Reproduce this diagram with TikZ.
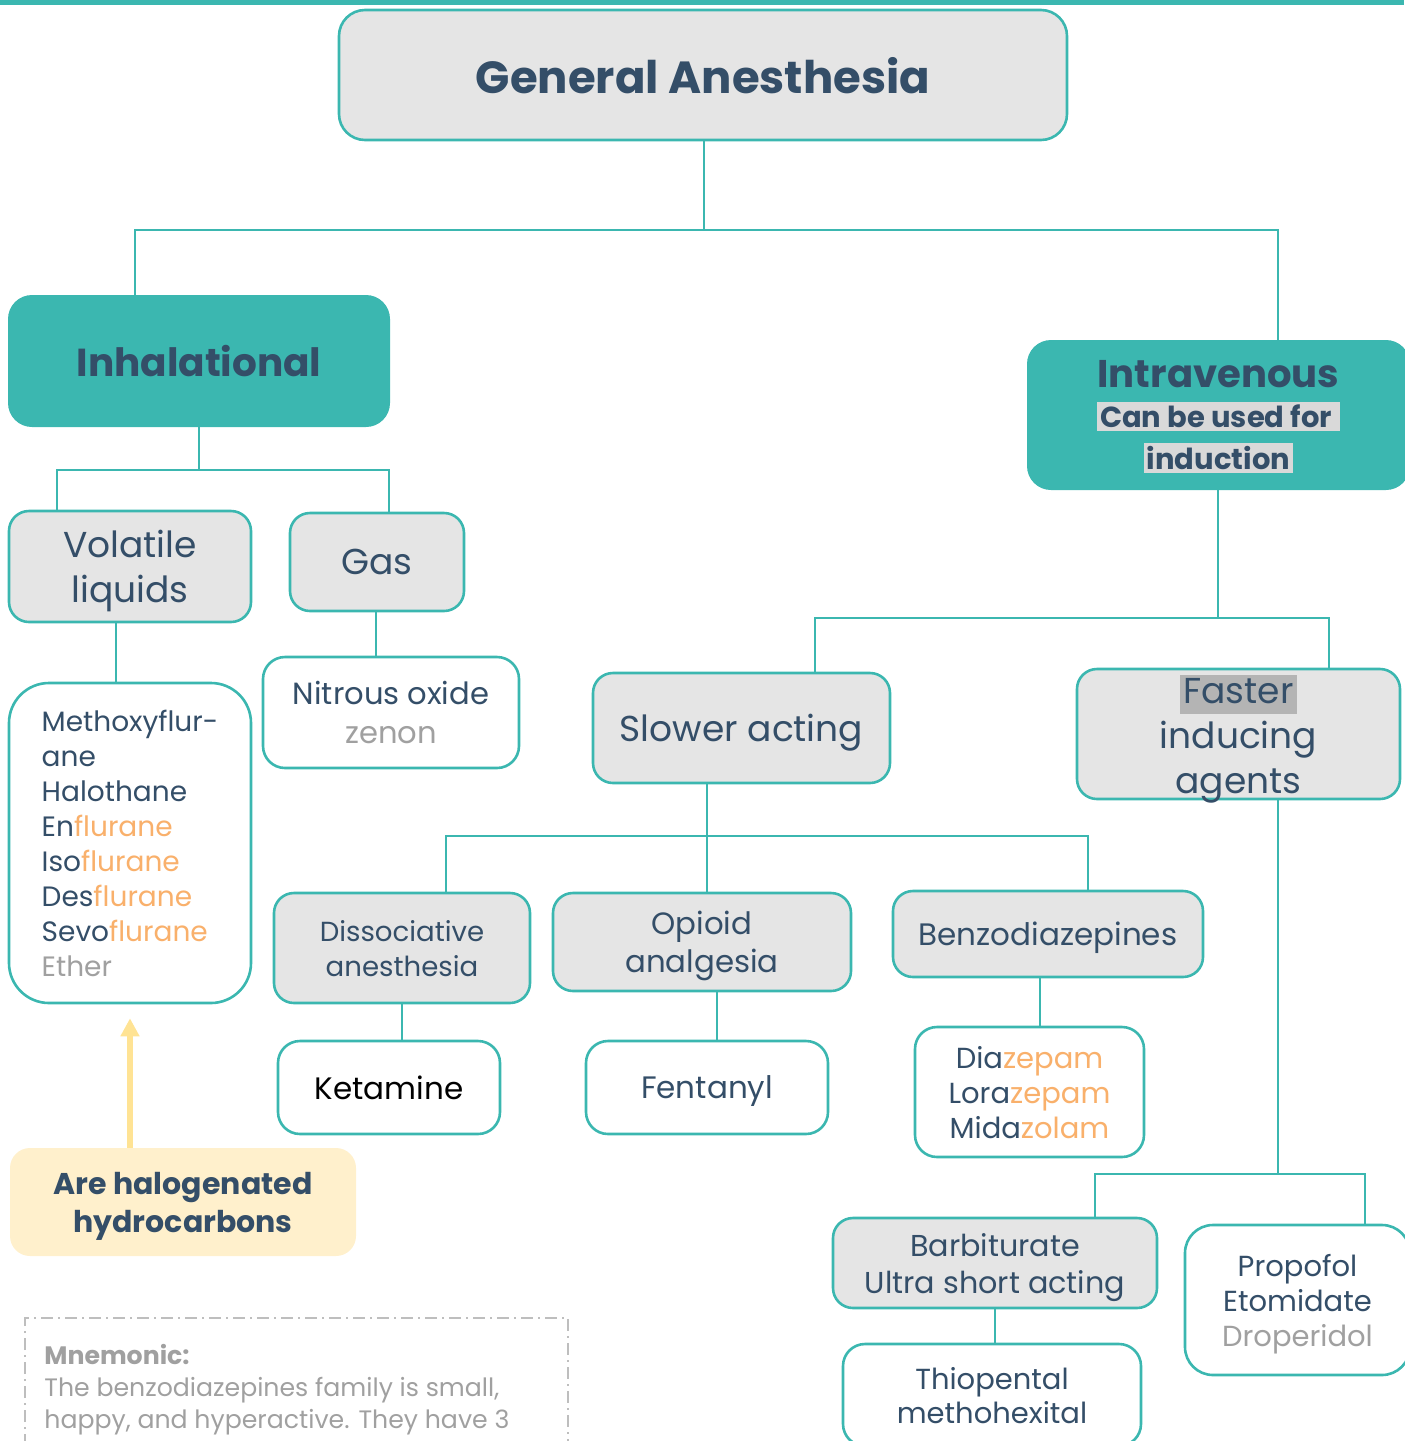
\documentclass[tikz,border=0pt]{standalone}
\usepackage{fontspec}
\setmainfont{Poppins}
\usetikzlibrary{arrows.meta}

\definecolor{tealc}{RGB}{59,183,176}
\definecolor{ink}{RGB}{52,78,104}
\definecolor{boxgrey}{RGB}{229,229,229}
\definecolor{sufcol}{RGB}{249,176,107}
\definecolor{faint}{RGB}{160,160,160}
\definecolor{hlgrey}{RGB}{217,217,217}
\definecolor{hldark}{RGB}{180,180,180}
\definecolor{notefill}{RGB}{255,240,204}
\definecolor{notearrow}{RGB}{255,227,148}
\definecolor{mnemline}{RGB}{190,190,190}

\newcommand{\fsz}[2]{\fontsize{#1}{#2}\selectfont}
\newcommand{\suf}[1]{\textcolor{sufcol}{#1}}
\newcommand{\faded}[1]{\textcolor{faint}{#1}}
\setlength{\fboxsep}{1.5pt}

\begin{document}
\begin{tikzpicture}[x=0.5pt,y=-0.5pt]
        \tikzstyle{grey}=[draw=tealc,line width=1.3pt,fill=boxgrey,rounded corners=10pt,text=ink,align=center,inner sep=0pt,text depth=0pt]
        \tikzstyle{leaf}=[draw=tealc,line width=1.3pt,fill=white,rounded corners=11pt,text=ink,align=center,inner sep=0pt,text depth=0pt]
        \tikzstyle{main}=[fill=tealc,rounded corners=12pt,text=ink,align=center,inner sep=0pt,text depth=0pt]
        \tikzstyle{link}=[draw=tealc,line width=1.2pt]

        \useasboundingbox (0,0) rectangle (1404,1441);
        \fill[tealc] (0,0) rectangle (1404,5);

        \node (ga)[grey,rounded corners=13pt,minimum width=364pt,minimum height=65pt,font=\bfseries\fsz{22.5}{26}] at (703,75) {General Anesthesia};

        \node (inh)[main,minimum width=191pt,minimum height=66pt,font=\bfseries\fsz{19.5}{24}] at (199,361) {Inhalational};
        \node (iv)[main,minimum width=191.5pt,minimum height=75pt,text depth=-5pt,font=\bfseries\fsz{14.5}{20}] at (1218.5,415) {{\fsz{19.3}{24}Intravenous}\\[0pt]\colorbox{hlgrey}{Can be used for\,}\\[1pt]\colorbox{hlgrey}{induction}};

        \node (vol)[grey,minimum width=121pt,minimum height=55.5pt,font=\fsz{18}{22.5}] at (130,566.5) {Volatile\\liquids};
        \node (gas)[grey,minimum width=87pt,minimum height=49pt,font=\fsz{18}{22}] at (377,562) {Gas};
        \node (vlist)[leaf,rounded corners=20pt,minimum width=121pt,minimum height=160pt,align=left,font=\fsz{14}{17.5}] at (130,843) {Methoxyflur-\\ane\\Halothane\\En\suf{flurane}\\Iso\suf{flurane}\\Des\suf{flurane}\\Sevo\suf{flurane}\\\faded{Ether}};
        \node (nit)[leaf,minimum width=128pt,minimum height=55.5pt,font=\fsz{15.3}{19.5}] at (391,712.5) {Nitrous oxide\\\faded{zenon}};

        \node (halo)[fill=notefill,rounded corners=10pt,minimum width=173pt,minimum height=54pt,text=ink,align=center,text depth=0pt,font=\bfseries\fsz{15}{19}] at (183,1202) {Are halogenated\\hydrocarbons};

        \node (slow)[grey,minimum width=148.5pt,minimum height=55pt,font=\fsz{18}{22}] at (741.5,728) {Slower acting};
        \node (fast)[grey,minimum width=161.5pt,minimum height=65pt,font=\fsz{18}{22.5}] at (1238.5,734) {\colorbox{hldark}{\rule[-4pt]{0pt}{15.5pt}Faster}\\inducing\\agents};

        \node (diss)[grey,minimum width=128pt,minimum height=55pt,font=\fsz{13.8}{17.5}] at (402,948) {Dissociative\\anesthesia};
        \node (opi)[grey,minimum width=149pt,minimum height=49pt,font=\fsz{15.4}{19}] at (702,942) {Opioid\\analgesia};
        \node (benz)[grey,minimum width=155pt,minimum height=43pt,font=\fsz{15.5}{19}] at (1048,934) {Benzodiazepines};

        \node (ket)[leaf,minimum width=111pt,minimum height=46.5pt,text=black,font=\fsz{15.5}{19}] at (389,1087.5) {Ketamine};
        \node (fen)[leaf,minimum width=121pt,minimum height=46.5pt,font=\fsz{15.5}{19}] at (707,1087.5) {Fentanyl};
        \node (diaz)[leaf,minimum width=114.5pt,minimum height=65pt,font=\fsz{14.5}{17.5}] at (1029.5,1092) {Dia\suf{zepam}\\Lora\suf{zepam}\\Mida\suf{zolam}};

        \node (barb)[grey,minimum width=162pt,minimum height=45pt,font=\fsz{15.1}{18.5}] at (995,1263) {Barbiturate\\Ultra short acting};
        \node (thio)[leaf,minimum width=149pt,minimum height=51pt,font=\fsz{14.5}{17}] at (992,1395) {Thiopental\\methohexital};
        \node (prop)[leaf,rounded corners=14pt,minimum width=112.5pt,minimum height=75pt,font=\fsz{14.5}{17.5}] at (1297.5,1300) {Propofol\\Etomidate\\\faded{Droperidol}};

        % tree links
        \coordinate (j1) at (704,230);
        \coordinate (j2) at (199,470);
        \coordinate (j3) at (1218,618);
        \coordinate (j4) at (707,836);
        \coordinate (j5) at (1278,1174);

        \draw[link] (ga.south -| j1) -- (j1);
        \draw[link] (inh.north -| 135,0) |- (j1) -| (iv.north -| 1278,0);

        \draw[link] (inh.south) -- (j2);
        \draw[link] (vol.north -| 57,0) |- (j2) -| (gas.north -| 389,0);
        \draw[link] (vol.south -| 116,0) -- (vlist.north -| 116,0);
        \draw[link] (gas.south -| 376,0) -- (nit.north -| 376,0);

        \draw[link] (iv.south -| j3) -- (j3);
        \draw[link] (slow.north -| 815,0) |- (j3) -| (fast.north -| 1329,0);

        \draw[link] (slow.south -| j4) -- (j4);
        \draw[link] (diss.north -| 446,0) |- (j4) -| (benz.north -| 1088,0);
        \draw[link] (j4) -- (opi.north -| j4);
        \draw[link] (diss.south -| 402,0) -- (ket.north -| 402,0);
        \draw[link] (opi.south -| 717,0) -- (fen.north -| 717,0);
        \draw[link] (benz.south -| 1040,0) -- (diaz.north -| 1040,0);

        \draw[link] (fast.south -| j5) -- (j5);
        \draw[link] (barb.north -| 1095,0) |- (j5) -| (prop.north -| 1365,0);
        \draw[link] (barb.south -| 995,0) -- (thio.north -| 995,0);

        % note arrow
        \draw[notearrow,line width=3pt,-{Triangle[width=9pt,length=9pt]},shorten >=7pt] (halo.north -| 130,0) -- (vlist.south -| 130,0);

        % mnemonic
        \draw[mnemline,line width=0.8pt,dash pattern=on 6pt off 2.5pt on 1pt off 2.5pt] (25,1470) |- (568,1318) -- (568,1470);
        \node (mnem)[anchor=north west,inner sep=0pt,text=faint,align=left,font=\fsz{12.6}{16}] at (44,1344) {\textbf{Mnemonic:}\\The benzodiazepines family is small,\\happy, and hyperactive. They have 3};
\end{tikzpicture}
\end{document}
